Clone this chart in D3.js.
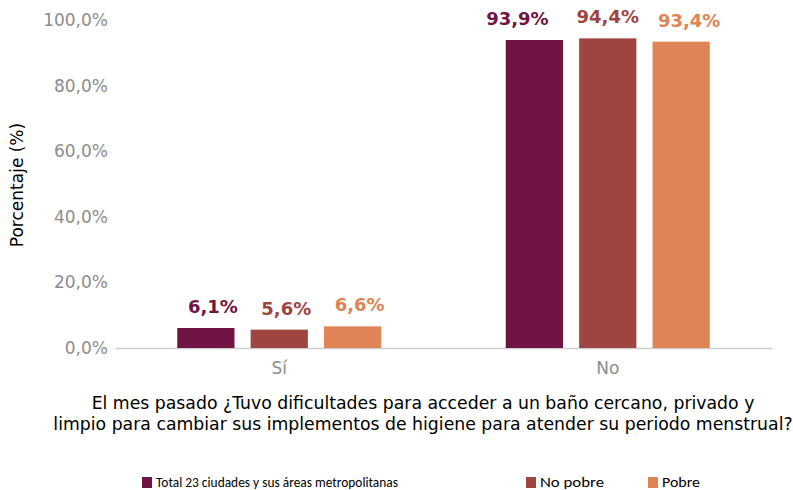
<!DOCTYPE html>
<html><head><meta charset="utf-8">
<script src="https://cdn.jsdelivr.net/npm/d3@7"></script>
<style>body{margin:0;background:#fff}svg{display:block}</style>
</head><body>
<svg id="c" width="793" height="490"></svg>
<script>
const categories = ["Sí", "No"];
const seriesNames = ["Total 23 ciudades y sus áreas metropolitanas", "No pobre", "Pobre"];
const totalValues = [6.1, 93.9];
const noPobreValues = [5.6, 94.4];
const pobreValues = [6.6, 93.4];
const yTicks = [0, 20, 40, 60, 80, 100];
const colors = ["#701443", "#9E4541", "#DF8455"];
const xTitleLines = ["El mes pasado ¿Tuvo dificultades para acceder a un baño cercano, privado y",
  "limpio para cambiar sus implementos de higiene para atender su periodo menstrual?"];
const yTitle = "Porcentaje (%)";

const series = [totalValues, noPobreValues, pobreValues];
const svg = d3.select("#c");
const font = "DejaVu Sans, Verdana, sans-serif";
const m = {left: 115, right: 772, top: 20, bottom: 348};

const x0 = d3.scaleBand().domain(categories).range([m.left, m.right]).paddingInner(0.0).paddingOuter(0);
const x1 = d3.scaleBand().domain(d3.range(3)).range([0, 204]).paddingInner(0.22).paddingOuter(0);
const y = d3.scaleLinear().domain([0, 100]).range([m.bottom, m.top]);
const fmt = v => d3.format(".1f")(v).replace(".", ",") + "%";

// y axis labels
const yAxis = d3.axisLeft(y).tickValues(yTicks).tickFormat(fmt).tickSize(0).tickPadding(0);
const ga = svg.append("g").attr("transform", `translate(108,0)`).call(yAxis);
ga.select(".domain").remove();
ga.selectAll("text").attr("fill", "#8c8c8c").style("font-family", font).style("font-size", "17px");

// x axis
const xAxis = d3.axisBottom(x0).tickSize(0).tickPadding(14);
const gx = svg.append("g").attr("transform", `translate(0,${m.bottom})`).call(xAxis);
gx.select(".domain").attr("stroke", "#d0d0d0").attr("stroke-width", 1.5);
gx.selectAll("text").attr("fill", "#8c8c8c").style("font-family", font).style("font-size", "17px");

// bars
categories.forEach((cat, ci) => {
  const gx0 = x0(cat) + (x0.bandwidth() - 204) / 2;
  series.forEach((vals, si) => {
    const v = vals[ci];
    svg.append("rect")
      .attr("x", gx0 + x1(si)).attr("width", x1.bandwidth())
      .attr("y", y(v)).attr("height", y(0) - y(v))
      .attr("fill", colors[si]);
    svg.append("text")
      .attr("x", gx0 + x1(si) + x1.bandwidth() / 2 + (ci === 0 ? 7 : (si === 0 ? -17 : (si === 2 ? 8 : 0))))
      .attr("y", y(v) - 15)
      .attr("text-anchor", "middle")
      .attr("fill", colors[si])
      .style("font-family", font).style("font-size", "18px").style("font-weight", "bold")
      .text(fmt(v));
  });
});

// axis titles
svg.append("text").attr("transform", "translate(23,185) rotate(-90)")
  .attr("text-anchor", "middle").style("font-family", font).style("font-size", "17px")
  .attr("fill", "#000").text(yTitle);
xTitleLines.forEach((t, i) => {
  svg.append("text").attr("x", 423).attr("y", 409 + i * 21)
    .attr("text-anchor", "middle").style("font-family", font).style("font-size", "17.3px")
    .attr("fill", "#000").text(t);
});

// legend
const legX = [142, 526, 648];
const legW = [242, 64, 38];
seriesNames.forEach((n, i) => {
  svg.append("rect").attr("x", legX[i]).attr("y", 477).attr("width", 10).attr("height", 11).attr("fill", colors[i]);
  svg.append("text").attr("x", legX[i] + 14).attr("y", 487)
    .attr("textLength", legW[i]).attr("lengthAdjust", "spacingAndGlyphs")
    .style("font-family", "Carlito, Lato, sans-serif").style("font-size", "15px").attr("fill", "#000").text(n);
});
</script>
</body></html>
